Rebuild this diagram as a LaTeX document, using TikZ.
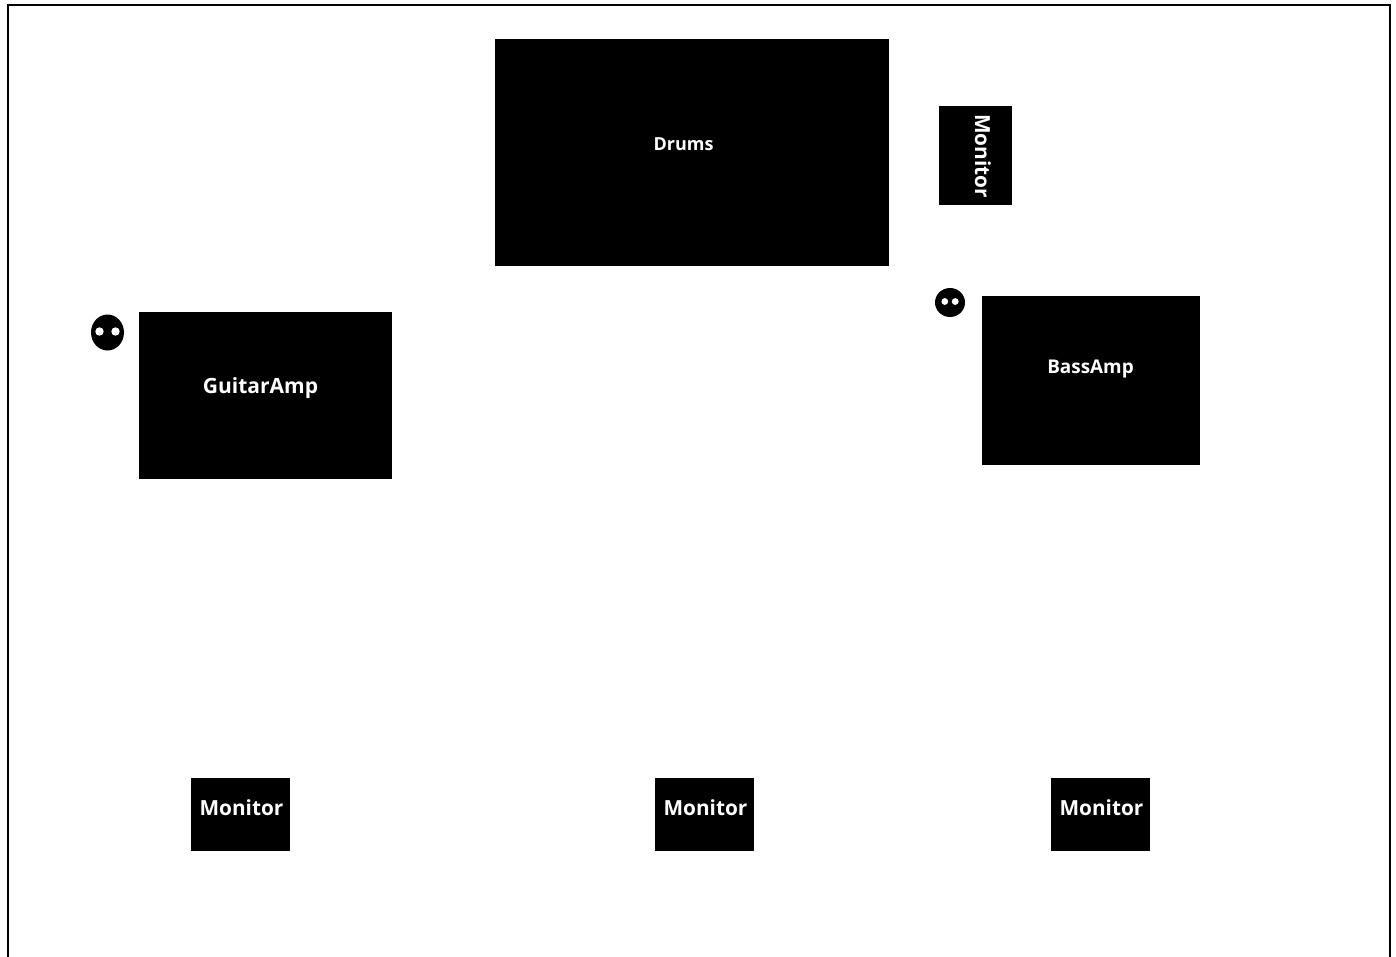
\documentclass[tikz,border=0pt]{standalone}
\usepackage{fontspec}
\setmainfont{Open Sans}
\tikzset{
  label box/.style={text=white,font=\bfseries\fontsize{10.5}{12}\selectfont,inner sep=0pt},
  small label/.style={text=white,font=\bfseries\fontsize{9}{10}\selectfont,inner sep=0pt},
  bass label/.style={text=white,font=\bfseries\fontsize{9.45}{11}\selectfont,inner sep=0pt},
  monitor label/.style={text=white,font=\bfseries\fontsize{10.4}{12}\selectfont,inner sep=0pt}
}
% One player: a black head with two white eyes
\newcommand{\playerhead}[6]{%
  \fill (#1,#2) ellipse ({#3} and {#4});
  \fill[white] ({#1-#5},{#2-1}) circle (#6);
  \fill[white] ({#1+#5},{#2-1}) circle (#6);
}
\begin{document}
\begin{tikzpicture}[x=0.5pt,y=-0.5pt]
    \useasboundingbox (0,0) rectangle (1396,957);

    % Stage outline, cut off at the bottom
    \draw[line width=1.2pt] (8,957) -- (8,5) -- (1390,5) -- (1390,957);

    % Drums and the side monitor
    \fill (495,39) rectangle (889,266);
    \fill (939,106) rectangle (1012,205);

    % Amps
    \fill (139,312) rectangle (392,479);
    \fill (982,296) rectangle (1200,465);

    % Front monitors
    \fill (191,778) rectangle (290,851);
    \fill (655,778) rectangle (754,851);
    \fill (1051,778) rectangle (1150,851);

    % Players
    \playerhead{107.5}{332.5}{16.5}{18}{8}{4.2}
    \playerhead{950}{302.5}{15}{14.5}{5.2}{3.4}

    % Labels
    \node[small label] (drums) at (683.5,144) {Drums};
    \node[monitor label,rotate=-90] (sidemonitor) at (983,156) {Monitor};
    \node[label box] (guitaramp) at (260.5,388) {GuitarAmp};
    \node[bass label] (bassamp) at (1090.5,368.5) {BassAmp};
    \node[monitor label] (monitorleft) at (241.5,808) {Monitor};
    \node[monitor label] (monitormid) at (705.5,808) {Monitor};
    \node[monitor label] (monitorright) at (1101.5,808) {Monitor};
\end{tikzpicture}
\end{document}
